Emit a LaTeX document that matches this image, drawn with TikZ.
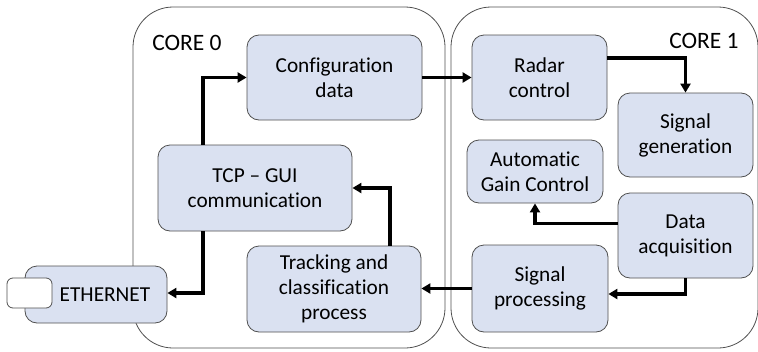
\documentclass[tikz,border=0pt]{standalone}
\usepackage{fontspec}
\setmainfont{Carlito}[Ligatures=NoCommon]
\usetikzlibrary{arrows.meta}
\definecolor{blkfill}{RGB}{218,225,241}
\definecolor{edge}{RGB}{80,80,80}
\begin{document}
\begin{tikzpicture}[x=1pt,y=-1pt,
  core/.style={draw=edge, line width=0.8pt, rounded corners=40pt, fill=white},
  blk/.style={draw=edge, line width=0.8pt, fill=blkfill, rounded corners=12pt, align=center,
    font=\fontsize{21.3}{25}\selectfont, inner sep=0pt},
  lbl/.style={font=\fontsize{23.5}{28}\selectfont, inner sep=0pt},
  flow/.style={line width=3.2pt, -{Triangle[length=9pt,width=10pt]}}]
\useasboundingbox (0,0) rectangle (758,351);
% cores
\draw[core] (133,7) rectangle (445,348);
\draw[core] (451,7) rectangle (758,348);
\node[lbl] (c0) at (187,43) {CORE 0};
\node[lbl] (c1) at (704,41) {CORE 1};
% ethernet
\node[blk, minimum width=142pt, minimum height=57pt] (eth) at (96,294.5) {\hspace*{18pt}ETHERNET};
\node[draw=edge, line width=0.8pt, fill=white, rounded corners=6pt, minimum width=45pt, minimum height=30pt, inner sep=0pt] (port) at (29.5,293) {};
% core 0 blocks
\node[blk, minimum width=175pt, minimum height=85pt] (cfg) at (334.5,77.5) {Configuration\\data};
\node[blk, minimum width=194pt, minimum height=86pt] (tcp) at (255,188) {TCP -- GUI\\communication};
\node[blk, minimum width=174pt, minimum height=86pt] (trk) at (334,289) {Tracking and\\classification\\process};
% core 1 blocks
\node[blk, minimum width=135pt, minimum height=85pt] (rad) at (539.5,77.5) {Radar\\control};
\node[blk, minimum width=135pt, minimum height=84pt] (sgen) at (685.5,135) {Signal\\generation};
\node[blk, minimum width=136pt, minimum height=63pt] (agc) at (535,171.5) {Automatic\\Gain Control};
\node[blk, minimum width=135pt, minimum height=85pt] (daq) at (685.5,235.5) {Data\\acquisition};
\node[blk, minimum width=136pt, minimum height=87pt] (sp) at (540,288.5) {Signal\\processing};
% arrows
\draw[flow] ([xshift=-52pt]tcp.north) |- (cfg.west);
\draw[flow] (cfg.east) -- (rad.west);
\draw[flow] ([yshift=19.5pt]rad.east) -| (sgen.north);
\draw[flow] ([yshift=12pt]daq.west) -| (agc.south);
\draw[flow] (daq.south) |- ([yshift=-5.5pt]sp.east);
\draw[flow] (sp.west) -- (sp.west -| trk.east);
\draw[flow] ([xshift=56pt]trk.north) |- (tcp.east);
\draw[flow] ([xshift=-52pt]tcp.south) |- ([yshift=1.5pt]eth.east);
\end{tikzpicture}
\end{document}
